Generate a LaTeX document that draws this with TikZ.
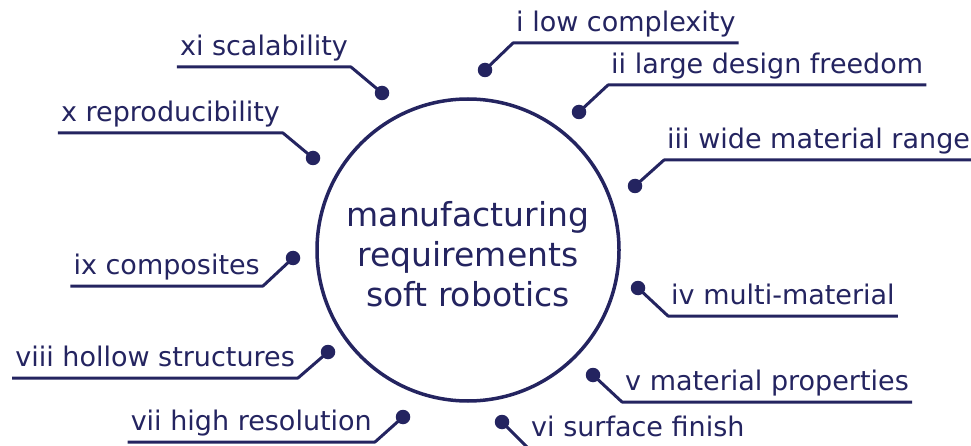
\documentclass[tikz,border=0pt]{standalone}
\usepackage{fontspec}
\setmainfont{DejaVu Sans}
\definecolor{navy}{RGB}{36,36,96}
\begin{document}
\begin{tikzpicture}[x=1pt,y=-1pt,
  dotnode/.style={circle,fill=navy,inner sep=0pt,minimum size=14.5pt},
  lbl/.style={inner xsep=3pt,inner ysep=0pt,text height=20pt,text depth=11pt,font=\fontsize{27}{32}\selectfont,text=navy},
  lead/.style={draw=navy,line width=3pt,line join=round}]
\clip (0,0) rectangle (971,446);
\node[circle,minimum size=302pt,inner sep=0pt] (c) at (468,250) {};
\draw[navy,line width=3.5pt] (c.center) circle[radius=151pt];
\node[align=center,text=navy,font=\fontsize{33}{40}\selectfont,inner sep=0pt] (ct) at (468,254) {manufacturing\\requirements\\soft robotics};
% right side
\node[dotnode] (d1) at (485,70) {};
\node[lbl,anchor=south west] (l1) at (513,43) {i low complexity};
\draw[lead] (d1.center) -- (l1.south west) -- (l1.south east);
\node[dotnode] (d2) at (579,112) {};
\node[lbl,anchor=south west] (l2) at (608,85) {ii large design freedom};
\draw[lead] (d2.center) -- (l2.south west) -- (l2.south east);
\node[dotnode] (d3) at (635,186) {};
\node[lbl,anchor=south west] (l3) at (664,160) {iii wide material range};
\draw[lead] (d3.center) -- (l3.south west) -- (l3.south east);
\node[dotnode] (d4) at (638,288) {};
\node[lbl,anchor=south west] (l4) at (668,316) {iv multi-material};
\draw[lead] (d4.center) -- (l4.south west) -- (l4.south east);
\node[dotnode] (d5) at (593,375) {};
\node[lbl,anchor=south west] (l5) at (622,402) {v material properties};
\draw[lead] (d5.center) -- (l5.south west) -- (l5.south east);
\node[dotnode] (d6) at (502,422) {};
\node[lbl,anchor=south west] (l6) at (528,448) {vi surface finish};
\draw[lead] (d6.center) -- (l6.south west) -- (l6.south east);
% left side
\node[dotnode] (d7) at (403,417) {};
\node[lbl,anchor=south east] (l7) at (375,442) {vii high resolution};
\draw[lead] (d7.center) -- (l7.south east) -- (l7.south west);
\node[dotnode] (d8) at (328,352) {};
\node[lbl,anchor=south east] (l8) at (298,378) {viii hollow structures};
\draw[lead] (d8.center) -- (l8.south east) -- (l8.south west);
\node[dotnode] (d9) at (293,258) {};
\node[lbl,anchor=south east] (l9) at (263,286) {ix composites};
\draw[lead] (d9.center) -- (l9.south east) -- (l9.south west);
\node[dotnode] (d10) at (313,158) {};
\node[lbl,anchor=south east] (l10) at (283,133) {x reproducibility};
\draw[lead] (d10.center) -- (l10.south east) -- (l10.south west);
\node[dotnode] (d11) at (382,93) {};
\node[lbl,anchor=south east] (l11) at (351,67) {xi scalability};
\draw[lead] (d11.center) -- (l11.south east) -- (l11.south west);
\end{tikzpicture}
\end{document}
